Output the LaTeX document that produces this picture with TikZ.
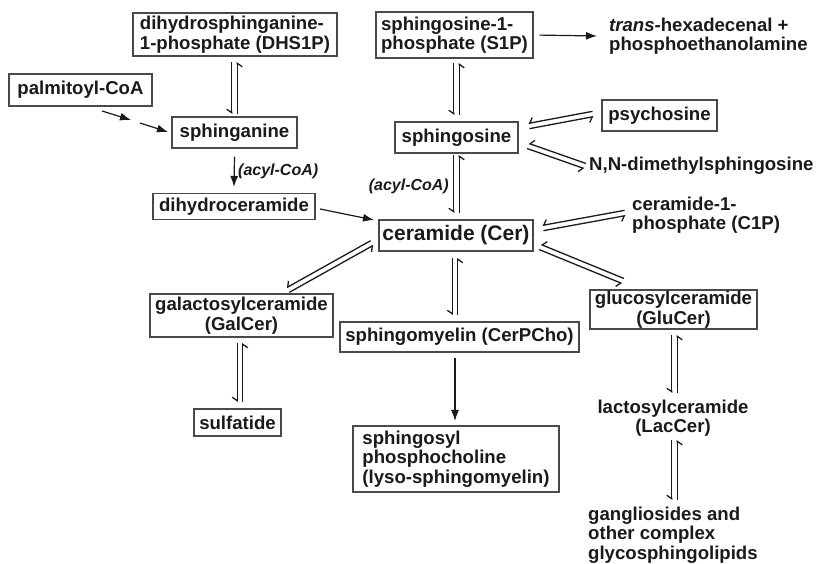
\documentclass[tikz,border=0pt]{standalone}
\usepackage{fontspec}
\setmainfont{Liberation Sans}
\usetikzlibrary{arrows.meta,calc}
\definecolor{ink}{HTML}{1A1A1A}
\definecolor{frame}{HTML}{4A4A4A}
\newcommand\fn{\fontsize{18.6}{19.5}\selectfont\bfseries}
\newcommand\fbig{\fontsize{21}{23}\selectfont\bfseries}
\newcommand\fsm{\fontsize{16}{18}\selectfont\bfseries\itshape}
\newcommand\eqpair[2]{%
  \draw[eqline] ($(#1)!2.7pt!-90:(#2)$) -- ($(#2)!2.7pt!90:(#1)$);
  \draw[eqline] ($(#2)!2.7pt!-90:(#1)$) -- ($(#1)!2.7pt!90:(#2)$);}
\tikzset{
  box/.style={draw=frame, line width=1.1pt, inner sep=0pt, text=ink, font=\fn},
  plain/.style={inner sep=0pt, text=ink, font=\fn},
  lbl/.style={inner sep=0pt, text=ink, font=\fsm},
  eqline/.style={draw=ink, line width=1.3pt, -{Straight Barb[harpoon,swap,length=3.5pt,width=10pt]}},
  arr/.style={draw=ink, line width=1.2pt, -{Latex[length=11pt,width=8pt]}},
}
\begin{document}
\begin{tikzpicture}[x=1pt,y=-1pt]
\useasboundingbox[fill=white] (0,0) rectangle (823,564);

% boxes
\node[box, minimum width=204pt, minimum height=43pt, align=left] (dhs1p) at (235,34.5) {dihydrosphinganine-\\1-phosphate (DHS1P)};
\node[box, minimum width=143pt, minimum height=32pt] (palm) at (80.5,90) {palmitoyl-CoA};
\node[box, minimum width=125pt, minimum height=31pt] (sphinganine) at (234.5,132.5) {sphinganine};
\node[box, minimum width=162pt, minimum height=26pt] (dihydrocer) at (234,206.5) {dihydroceramide};
\node[box, minimum width=157pt, minimum height=46pt, align=left] (s1p) at (454.5,35) {sphingosine-1-\\phosphate (S1P)};
\node[plain, anchor=west, align=left] (transhex) at (609,36) {\textit{trans}-hexadecenal +\\phosphoethanolamine};
\node[box, minimum width=123pt, minimum height=31pt] (sphingosine) at (456.5,137.5) {sphingosine};
\node[box, minimum width=115pt, minimum height=31pt] (psychosine) at (659.5,115.5) {psychosine};
\node[plain, anchor=west] (nndim) at (589,166) {N,N-dimethylsphingosine};
\node[box, font=\fbig, minimum width=154pt, minimum height=31pt] (ceramide) at (456,235.5) {ceramide (Cer)};
\node[plain, anchor=west, align=left] (c1p) at (632,215) {ceramide-1-\\phosphate (C1P)};
\node[box, minimum width=183pt, minimum height=43pt, align=center] (galcer) at (241.5,315.5) {galactosylceramide\\(GalCer)};
\node[box, minimum width=239pt, minimum height=30pt] (sm) at (459.5,337) {sphingomyelin (CerPCho)};
\node[box, minimum width=167pt, minimum height=39pt, align=center] (glucer) at (673.5,309.5) {glucosylceramide\\(GluCer)};
\node[box, minimum width=87pt, minimum height=27pt] (sulfatide) at (237.5,422.5) {sulfatide};
\node[box, minimum width=206pt, minimum height=66pt, align=left] (spc) at (456,459) {sphingosyl\\phosphocholine\\(lyso-sphingomyelin)};
\node[plain, align=center] (laccer) at (673,418) {lactosylceramide\\(LacCer)};
\node[plain, anchor=west, align=left] (ganglio) at (588,535) {gangliosides and\\other complex\\glycosphingolipids};

% labels
\node[lbl, anchor=west] (acyl1) at (238,171) {(acyl-CoA)};
\node[lbl, anchor=east] (acyl2) at (449,186) {(acyl-CoA)};

% equilibrium end points
\coordinate (e1a) at (234.5,62);  \coordinate (e1b) at (234.5,114);
\coordinate (e2a) at (456.5,63);  \coordinate (e2b) at (456.5,115);
\coordinate (e3a) at (529,126);   \coordinate (e3b) at (593,114);
\coordinate (e4a) at (528,146);   \coordinate (e4b) at (585,166);
\coordinate (e5a) at (456.5,155); \coordinate (e5b) at (456.5,213);
\coordinate (e6a) at (543,228);   \coordinate (e6b) at (625,213);
\coordinate (e7a) at (540,247);   \coordinate (e7b) at (623,281);
\coordinate (e8a) at (372,243);   \coordinate (e8b) at (288,290);
\coordinate (e9a) at (455,258);   \coordinate (e9b) at (455,315);
\coordinate (e10a) at (240,343);  \coordinate (e10b) at (240,402);
\coordinate (e11a) at (674.5,335);\coordinate (e11b) at (674.5,393);
\coordinate (e12a) at (674.5,440);\coordinate (e12b) at (674.5,500);
\eqpair{e1a}{e1b}
\eqpair{e2a}{e2b}
\eqpair{e3a}{e3b}
\eqpair{e4a}{e4b}
\eqpair{e5a}{e5b}
\eqpair{e6a}{e6b}
\eqpair{e7a}{e7b}
\eqpair{e8a}{e8b}
\eqpair{e9a}{e9b}
\eqpair{e10a}{e10b}
\eqpair{e11a}{e11b}
\eqpair{e12a}{e12b}

% single arrows
\coordinate (p1) at (102,111); \coordinate (p2) at (131,120);
\coordinate (p3) at (140,123); \coordinate (p4) at (168,132);
\draw[arr] (p1) -- (p2);
\draw[arr] (p3) -- (p4);
\draw[arr] ([yshift=-8pt]sphinganine.south) -- ([yshift=6pt]dihydrocer.north);
\coordinate (d1) at (320,209); \coordinate (d2) at (374,220);
\draw[arr] (d1) -- (d2);
\draw[arr, shorten <=6pt] (s1p.east) -- ([xshift=-12pt]transhex.west);
\coordinate (m1) at (455,358); \coordinate (m2) at (455,421);
\draw[arr] (m1) -- (m2);
\end{tikzpicture}
\end{document}
